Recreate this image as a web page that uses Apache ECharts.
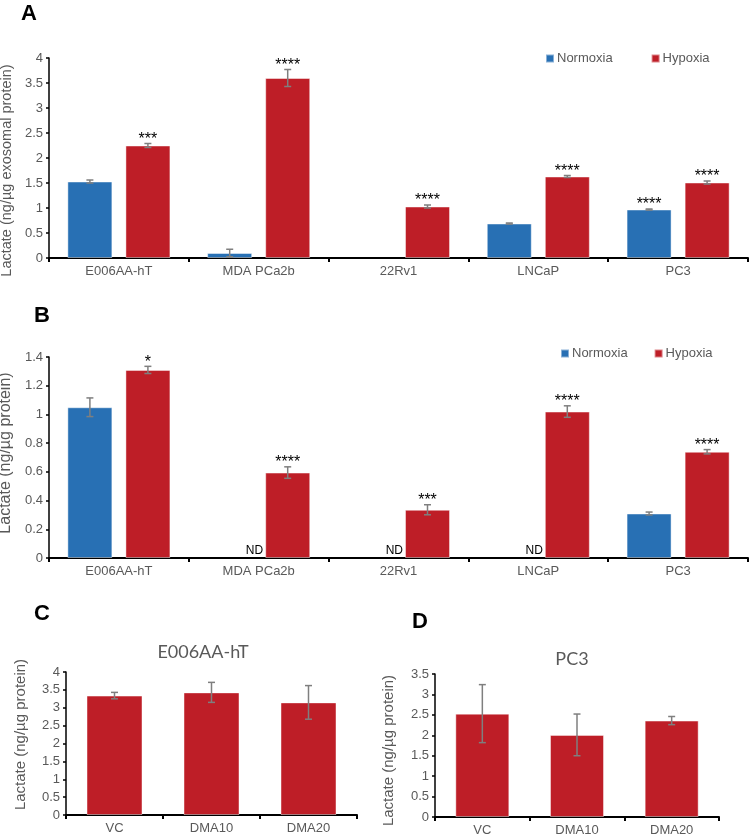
<!DOCTYPE html>
<html>
<head>
<meta charset="utf-8">
<script src="https://cdn.jsdelivr.net/npm/echarts@6/dist/echarts.min.js"></script>
<style>
  html, body { margin: 0; padding: 0; background: #fff; }
  #graph { width: 750px; height: 837px; }
</style>
</head>
<body>
<div id="graph"></div>
<script>
// A & B: cell lines, normoxia vs hypoxia
var cellLines = ['E006AA-hT', 'MDA PCa2b', '22Rv1', 'LNCaP', 'PC3'];

var exoNormoxia = [1.53, 0.1, null, 0.69, 0.97];
var exoNormoxiaErr = [0.03, 0.075, 0, 0.01, 0.01];
var exoNormoxiaSig = ['', '', '', '', '****'];
var exoHypoxia = [2.25, 3.6, 1.03, 1.63, 1.51];
var exoHypoxiaErr = [0.04, 0.17, 0.03, 0.02, 0.03];
var exoHypoxiaSig = ['***', '****', '****', '****', '****'];

// null = not detected (ND)
var cellNormoxia = [1.05, null, null, null, 0.31];
var cellNormoxiaErr = [0.065, 0, 0, 0, 0.01];
var cellHypoxia = [1.31, 0.595, 0.336, 1.02, 0.74];
var cellHypoxiaErr = [0.025, 0.04, 0.035, 0.04, 0.015];
var cellHypoxiaSig = ['*', '****', '***', '****', '****'];

// C & D: treatment
var treatments = ['VC', 'DMA10', 'DMA20'];
var e006Lactate = [3.34, 3.43, 3.15];
var e006Err = [0.09, 0.28, 0.47];
var pc3Lactate = [2.53, 2.01, 2.36];
var pc3Err = [0.71, 0.51, 0.1];

var BLUE = '#2870B4';
var RED = '#BE1E27';
var GREY = '#595959';
var FONT = 'Liberation Sans';

var pairBar = 45, pairGap = 13;
var pairOffset = (pairBar + pairGap) / 2;

function errorBars(gi, values, errs, marks, offset) {
    var rows = values.map(function(v, i) {
        return [i, v == null ? 0 : v, errs[i]];
    });
    return {
        type: 'custom',
        xAxisIndex: gi,
        yAxisIndex: gi,
        z: 5,
        silent: true,
        data: rows,
        renderItem: function(params, api) {
            var i = api.value(0), v = api.value(1), e = api.value(2);
            var c = api.coord([i, v]);
            var x = c[0] + offset;
            var top = api.coord([i, v + e])[1];
            var bot = api.coord([i, v - e])[1];
            var st = { stroke: '#7F7F7F', lineWidth: 1.5 };
            var kids = [];
            if (e > 0) {
                kids.push({ type: 'line', shape: { x1: x, y1: top, x2: x, y2: bot }, style: st });
                kids.push({ type: 'line', shape: { x1: x - 3.5, y1: top, x2: x + 3.5, y2: top }, style: st });
                kids.push({ type: 'line', shape: { x1: x - 3.5, y1: bot, x2: x + 3.5, y2: bot }, style: st });
            }
            var m = marks ? marks[params.dataIndex] : '';
            if (m) {
                kids.push({
                    type: 'text',
                    style: {
                        x: x, y: top - 4, text: m, align: 'center', verticalAlign: 'middle',
                        fill: '#000', font: '16px "' + FONT + '"'
                    }
                });
            }
            return { type: 'group', children: kids };
        }
    };
}

// "ND" written just left of the hypoxia bar where normoxia is missing
function ndLabels(gi, values) {
    return {
        type: 'custom',
        xAxisIndex: gi,
        yAxisIndex: gi,
        z: 6,
        silent: true,
        data: values.map(function(v, i) { return [i, v == null ? 1 : 0]; }),
        renderItem: function(params, api) {
            if (!api.value(1)) return null;
            var c = api.coord([api.value(0), 0]);
            return {
                type: 'text',
                style: {
                    x: c[0] + pairOffset - pairBar / 2 - 2, y: c[1] - 1, text: 'ND',
                    align: 'right', verticalAlign: 'bottom',
                    fill: '#000', font: '12px "' + FONT + '"'
                }
            };
        }
    };
}

function xAxis(gi, cats) {
    return {
        type: 'category', gridIndex: gi, data: cats,
        axisLine: { lineStyle: { color: '#000', width: 2 } },
        axisTick: { show: true, length: 4, lineStyle: { color: '#000', width: 2 } },
        axisLabel: { color: GREY, fontSize: 13, fontFamily: FONT, margin: 7 }
    };
}

function yAxis(gi, max, step, name, nameSize, gap, pad) {
    return {
        type: 'value', gridIndex: gi, min: 0, max: max, interval: step,
        name: name, nameLocation: 'middle', nameGap: gap,
        nameTextStyle: { color: GREY, fontSize: nameSize, fontFamily: FONT, padding: pad },
        axisLine: { show: true, lineStyle: { color: '#000', width: 1.5 } },
        axisTick: { show: true, length: 3, lineStyle: { color: '#000', width: 1.5 } },
        axisLabel: { color: GREY, fontSize: 13, fontFamily: FONT, margin: 6 },
        splitLine: { show: false }
    };
}

function bar(gi, name, data, color, width, gap) {
    return {
        type: 'bar', name: name, xAxisIndex: gi, yAxisIndex: gi,
        data: data, barWidth: width, barGap: gap,
        itemStyle: { color: color, borderColor: 'rgba(255,255,255,0.45)', borderWidth: 1 },
        silent: true
    };
}

function letter(t, x, y) {
    return { text: t, left: x, top: y, padding: 0,
        textStyle: { fontSize: 22, fontWeight: 'bold', color: '#000', fontFamily: FONT } };
}

function legend(left, top, gap) {
    return {
        left: left, top: top, itemWidth: 8, itemHeight: 8, itemGap: gap, icon: 'rect',
        data: ['Normoxia', 'Hypoxia'], selectedMode: false, padding: 0,
        textStyle: { color: GREY, fontSize: 13, fontFamily: FONT, padding: [0, 0, 0, -2] }
    };
}

var gapPct = Math.round(pairGap / pairBar * 100) + '%';

var option = {
    animation: false,
    title: [
        letter('A', 21, 3),
        letter('B', 34, 305),
        letter('C', 34, 603),
        letter('D', 412, 611),
        { text: 'E006AA-hT', left: 203, top: 643, textAlign: 'center', padding: 0,
          textStyle: { fontSize: 18, fontWeight: 'normal', color: GREY, fontFamily: 'Lato' } },
        { text: 'PC3', left: 572, top: 650, textAlign: 'center', padding: 0,
          textStyle: { fontSize: 18, fontWeight: 'normal', color: GREY, fontFamily: 'Lato' } }
    ],
    legend: [legend(545, 52, 38), legend(560, 347, 26)],
    grid: [
        { left: 49, top: 58, width: 699, height: 200, outerBoundsMode: 'none' },
        { left: 49, top: 357, width: 699, height: 201, outerBoundsMode: 'none' },
        { left: 66, top: 672, width: 291, height: 143, outerBoundsMode: 'none' },
        { left: 435, top: 674, width: 284, height: 143, outerBoundsMode: 'none' }
    ],
    xAxis: [xAxis(0, cellLines), xAxis(1, cellLines), xAxis(2, treatments), xAxis(3, treatments)],
    yAxis: [
        yAxis(0, 4, 0.5, 'Lactate (ng/µg exosomal protein)', 14.5, 33, [0, 25, 0, 0]),
        yAxis(1, 1.4, 0.2, 'Lactate (ng/µg protein)', 16, 33, [0, 0, 0, 9]),
        yAxis(2, 4, 0.5, 'Lactate (ng/µg protein)', 15, 38, [0, 0, 0, 18]),
        yAxis(3, 3.5, 0.5, 'Lactate (ng/µg protein)', 15, 39, [0, 10, 0, 0])
    ],
    series: [
        bar(0, 'Normoxia', exoNormoxia, BLUE, pairBar, gapPct),
        bar(0, 'Hypoxia', exoHypoxia, RED, pairBar, gapPct),
        errorBars(0, exoNormoxia, exoNormoxiaErr, exoNormoxiaSig, -pairOffset),
        errorBars(0, exoHypoxia, exoHypoxiaErr, exoHypoxiaSig, pairOffset),

        bar(1, 'Normoxia', cellNormoxia, BLUE, pairBar, gapPct),
        bar(1, 'Hypoxia', cellHypoxia, RED, pairBar, gapPct),
        errorBars(1, cellNormoxia, cellNormoxiaErr, null, -pairOffset),
        errorBars(1, cellHypoxia, cellHypoxiaErr, cellHypoxiaSig, pairOffset),
        ndLabels(1, cellNormoxia),

        bar(2, 'VC', e006Lactate, RED, 56, '0%'),
        errorBars(2, e006Lactate, e006Err, null, 0),

        bar(3, 'PC3', pc3Lactate, RED, 54, '0%'),
        errorBars(3, pc3Lactate, pc3Err, null, 0)
    ]
};

var chart = echarts.init(document.getElementById('graph'));
chart.setOption(option);
</script>
</body>
</html>
